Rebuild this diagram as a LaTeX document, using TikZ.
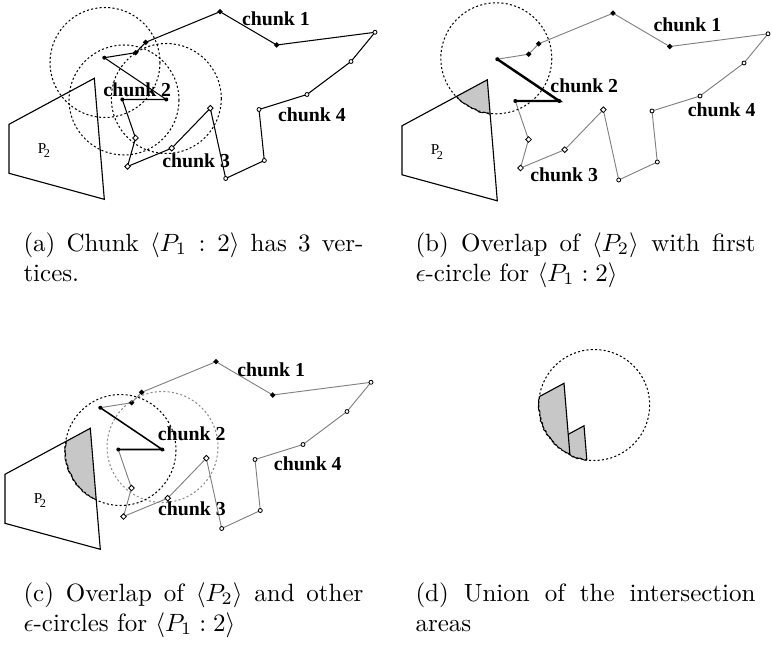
\documentclass[tikz,border=0pt]{standalone}
\usepackage{fontspec}
\newfontfamily\tms{Liberation Serif}
\usetikzlibrary{shapes.geometric,decorations.pathmorphing}
\newcommand\mkpoly[1]{%
 \coordinate (#1-2a) at (104.3,57.7);
 \coordinate (#1-1a) at (135.7,52.7);
 \coordinate (#1-1b) at (145.7,42.3);
 \coordinate (#1-1c) at (220,11.7);
 \coordinate (#1-1d) at (276.7,45);
 \coordinate (#1-4a) at (375,32.3);
 \coordinate (#1-4b) at (351,61.5);
 \coordinate (#1-4c) at (307,94.5);
 \coordinate (#1-4d) at (259,109.5);
 \coordinate (#1-4e) at (264.3,160.5);
 \coordinate (#1-4f) at (225.7,178.5);
 \coordinate (#1-3a) at (210.3,108.2);
 \coordinate (#1-3b) at (171.7,148.2);
 \coordinate (#1-3c) at (127.5,166.5);
 \coordinate (#1-3d) at (135.5,138);
 \coordinate (#1-2c) at (122.3,99.5);
 \coordinate (#1-2b) at (166.3,99.5);
}
\newcommand\mkptwo[1]{%
 \coordinate (#1-pA) at (94.3,78.3);
 \coordinate (#1-pB) at (9,124.3);
 \coordinate (#1-pC) at (9,173.3);
 \coordinate (#1-pD) at (104.3,199.3);
 \coordinate (#1-pL) at (44,150.5);
}
\newcommand\drawchain[3]{%
 \draw[#2] (#1-2a) -- (#1-1a) -- (#1-1b) -- (#1-1c) -- (#1-1d) -- (#1-4a) -- (#1-4b) -- (#1-4c) -- (#1-4d) -- (#1-4e) -- (#1-4f) -- (#1-3a) -- (#1-3b) -- (#1-3c) -- (#1-3d) -- (#1-2c);
 \draw[#3] (#1-2c) -- (#1-2b) -- (#1-2a);
 \foreach \v in {1a,1b,1c,1d} {\node[fdia] (#1-m\v) at (#1-\v) {};}
 \foreach \v in {2a,2b,2c} {\node[fdot] (#1-m\v) at (#1-\v) {};}
 \foreach \v in {3a,3b,3c,3d} {\node[odia] (#1-m\v) at (#1-\v) {};}
 \foreach \v in {4a,4b,4c,4d,4e,4f} {\node[ocirc] (#1-m\v) at (#1-\v) {};}
}
\newcommand\ptwopath[1]{(#1-pA) -- (#1-pB) -- (#1-pC) -- (#1-pD) -- cycle}
\newcommand\drawptwo[1]{%
 \draw[poly] (#1-pA) -- (#1-pB) -- (#1-pC) -- (#1-pD) -- cycle;
 \node[plab] (#1-pl) at (#1-pL) {P\kern-1pt\raisebox{-1.7pt}{\fontsize{4.9}{5}\selectfont 2}};
}
\tikzset{
 gedge/.style={line width=0.37pt, black!50},
 bedge/.style={line width=0.42pt, black},
 thk/.style={line width=0.98pt, black},
 med/.style={line width=0.62pt, black},
 poly/.style={line width=0.45pt, black},
 epscirc/.style={line width=0.41pt, dash pattern=on 0.82pt off 0.9pt},
 gcirc/.style={epscirc, black!45},
 fdia/.style={diamond, fill=black, inner sep=0pt, minimum size=2.4pt},
 odia/.style={diamond, draw=black, fill=white, line width=0.33pt, inner sep=0pt, minimum size=2.4pt},
 ocirc/.style={circle, draw=black, fill=white, line width=0.33pt, inner sep=0pt, minimum size=1.6pt},
 fdot/.style={circle, fill=black, inner sep=0pt, minimum size=1.6pt},
 chunklab/.style={font=\tms\bfseries\fontsize{7.92}{8}\selectfont, inner sep=0pt},
 plab/.style={font=\tms\fontsize{6.07}{7}\selectfont, inner sep=0pt},
 caplab/.style={font=\fontsize{10}{12}\selectfont, inner sep=0pt, anchor=base west},
 hatch/.style={fill=black!22},
 jag/.style={line width=0.37pt, black, decorate, decoration={random steps, segment length=0.98pt, amplitude=0.37pt}},
}
\begin{document}
\begin{tikzpicture}[x=0.4pt, y=-0.4pt]
\pgfmathsetseed{7}
\useasboundingbox (0,0) rectangle (772,645);
% ---------------- panel (a)
\begin{scope}
 \mkpoly{a}\mkptwo{a}
 \coordinate (a-k1) at (105,62.5);
 \coordinate (a-k2) at (124,100);
 \coordinate (a-k3) at (166.3,98.5);
\end{scope}
\drawptwo{a}
\drawchain{a}{bedge}{bedge}
\draw[epscirc] (a-k1) circle[radius=55];
\draw[epscirc] (a-k2) circle[radius=55];
\draw[epscirc] (a-k3) circle[radius=55];
\node[chunklab] (a-l1) at (276,18.3) {chunk 1};
\node[chunklab] (a-l2) at (137.3,90) {chunk 2};
\node[chunklab] (a-l3) at (196.2,160.7) {chunk 3};
\node[chunklab] (a-l4) at (312,115) {chunk 4};
% ---------------- panel (b)
\begin{scope}[shift={(393,1.5)}]
 \mkpoly{b}\mkptwo{b}
 \coordinate (b-k1) at (103.3,56.8);
 \coordinate (b-t1) at (294.5,22.8);
 \coordinate (b-t2) at (191.3,84.5);
 \coordinate (b-t3) at (171.2,173.5);
 \coordinate (b-t4) at (328.7,107.8);
\end{scope}
\begin{scope}
 \clip \ptwopath{b};
 \fill[hatch] (b-k1) circle[radius=55.5];
 \draw[jag] (b-k1) circle[radius=55.5];
\end{scope}
\drawptwo{b}
\drawchain{b}{gedge}{thk}
\draw[epscirc] (b-k1) circle[radius=55.5];
\node[chunklab] (b-l1) at (b-t1) {chunk 1};
\node[chunklab] (b-l2) at (b-t2) {chunk 2};
\node[chunklab] (b-l3) at (b-t3) {chunk 3};
\node[chunklab] (b-l4) at (b-t4) {chunk 4};
% ---------------- panel (c)
\begin{scope}[shift={(-4,350)}]
 \mkpoly{c}\mkptwo{c}
 \coordinate (c-k2) at (124.5,100);
 \coordinate (c-k3) at (166.5,97);
 \coordinate (c-t1) at (275.2,19.3);
 \coordinate (c-t2) at (195.7,83.3);
 \coordinate (c-t3) at (196,159);
 \coordinate (c-t4) at (311.8,114);
\end{scope}
\begin{scope}
 \clip \ptwopath{c};
 \fill[hatch] (c-k2) circle[radius=55.5];
 \draw[jag] (c-k2) circle[radius=55.5];
\end{scope}
\drawptwo{c}
\drawchain{c}{gedge}{med}
\draw[gcirc] (c-k3) circle[radius=55.5];
\draw[epscirc] (c-k2) circle[radius=55.5];
\node[chunklab] (c-l1) at (c-t1) {chunk 1};
\node[chunklab] (c-l2) at (c-t2) {chunk 2};
\node[chunklab] (c-l3) at (c-t3) {chunk 3};
\node[chunklab] (c-l4) at (c-t4) {chunk 4};
% ---------------- panel (d)
\begin{scope}[shift={(469.7,305)}]
 \mkptwo{d}
 \begin{scope}[shift={(20,42.5)}]\mkptwo{dt}\end{scope}
 \coordinate (d-k) at (124.5,100);
 \coordinate (d-r1) at (87.8,0);
 \coordinate (d-r2) at (108.5,250);
 \coordinate (d-r3) at (300,250);
 \coordinate (d-r4) at (300,0);
\end{scope}
\begin{scope}
 \clip (d-k) circle[radius=55.5];
 \fill[hatch] \ptwopath{d};
 \fill[hatch] \ptwopath{dt};
 \draw[poly] \ptwopath{d};
 \begin{scope}
  \clip (d-r1) -- (d-r2) -- (d-r3) -- (d-r4) -- cycle;
  \draw[poly] \ptwopath{dt};
 \end{scope}
\end{scope}
\begin{scope}
 \clip \ptwopath{d};
 \pgfmathsetseed{11}
 \draw[jag] (d-k) circle[radius=55.5];
\end{scope}
\begin{scope}
 \clip \ptwopath{dt};
 \clip (d-r1) -- (d-r2) -- (d-r3) -- (d-r4) -- cycle;
 \pgfmathsetseed{11}
 \draw[jag] (d-k) circle[radius=55.5];
\end{scope}
\draw[epscirc] (d-k) circle[radius=55.5];
% ---------------- captions
\node[caplab] (capa1) at (23,251) {\makebox[136pt][s]{(a) Chunk $\langle P_1 : 2\rangle$ has 3 ver-}};
\node[caplab] (capa2) at (23,281) {tices.};
\node[caplab] (capb1) at (415,251) {\makebox[136pt][s]{(b) Overlap of $\langle P_2\rangle$ with first}};
\node[caplab] (capb2) at (415,281) {$\epsilon$-circle for $\langle P_1 : 2\rangle$};
\node[caplab] (capc1) at (23,601) {\makebox[136pt][s]{(c) Overlap of $\langle P_2\rangle$ and other}};
\node[caplab] (capc2) at (23,631) {$\epsilon$-circles for $\langle P_1 : 2\rangle$};
\node[caplab] (capd1) at (415,601) {\makebox[136pt][s]{(d) Union of the intersection}};
\node[caplab] (capd2) at (415,631) {areas};
\end{tikzpicture}
\end{document}
